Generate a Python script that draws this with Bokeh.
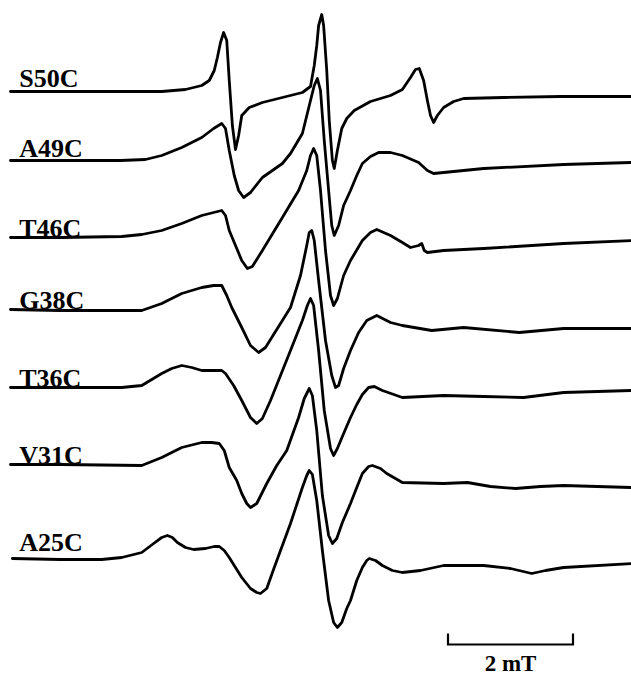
from bokeh.plotting import figure
from bokeh.models import Range1d
from bokeh.embed import file_html
from bokeh.resources import INLINE
from bokeh.core.properties import value

# EPR spectra of spin-labelled cysteine mutants.
# Field in mT (relative to start of sweep), signal in arbitrary units.

s50c_field = [0.00, 0.80, 1.76, 2.42, 2.80, 3.06, 3.18, 3.26, 3.31, 3.36, 3.41, 3.46, 3.50, 3.55, 3.60,
              3.65, 3.70, 3.82, 4.03, 4.35, 4.67, 4.80, 4.86, 4.90, 4.93, 4.98, 5.01, 5.06, 5.10, 5.15,
              5.18, 5.23, 5.30, 5.38, 5.50, 5.76, 6.08, 6.27, 6.40, 6.48, 6.54, 6.61, 6.67, 6.72, 6.77,
              6.83, 6.93, 7.09, 7.25, 7.89, 8.80, 9.94]
s50c_signal = [0, 0, 0, 0, 2, 6, 11, 21, 34, 49, 59, 51, 11, -34, -58,
               -44, -24, -16, -11, -6, -1, 5, 26, 46, 66, 77, 66, 21, -29, -69,
               -77, -59, -37, -27, -19, -10, -4, 2, 14, 22, 23, 11, -9, -24, -31,
               -24, -16, -10, -7, -6, -5, -5]

a49c_field = [0.00, 0.80, 1.76, 2.16, 2.42, 2.74, 3.06, 3.25, 3.38, 3.44, 3.50, 3.58, 3.65, 3.73, 3.84,
              4.03, 4.35, 4.48, 4.67, 4.80, 4.86, 4.91, 4.96, 5.02, 5.09, 5.14, 5.18, 5.25, 5.33, 5.44,
              5.54, 5.63, 5.76, 5.89, 6.08, 6.27, 6.53, 6.67, 6.77, 6.93, 7.57, 8.85, 9.94]
a49c_signal = [0, 0, 0, 1, 5, 13, 23, 32, 37, 32, 10, -15, -30, -37, -32,
               -17, -3, 7, 27, 60, 75, 82, 70, 20, -30, -65, -75, -65, -45, -30,
               -15, -3, 4, 8, 8, 5, -2, -10, -13, -12, -8, -4, -2]

t46c_field = [0.00, 0.80, 1.78, 2.10, 2.42, 2.74, 3.06, 3.25, 3.38, 3.44, 3.50, 3.60, 3.70, 3.79, 3.87,
              4.03, 4.35, 4.61, 4.74, 4.80, 4.85, 4.90, 4.96, 5.04, 5.12, 5.17, 5.23, 5.33, 5.44, 5.63,
              5.76, 5.86, 6.08, 6.27, 6.40, 6.53, 6.58, 6.62, 6.67, 6.93, 7.57, 8.85, 9.94]
t46c_signal = [0, 0, 1, 3, 7, 14, 22, 25, 27, 22, 7, -8, -23, -31, -29,
               -13, 20, 47, 67, 82, 89, 82, 47, -13, -58, -68, -61, -38, -23, -3,
               5, 8, 2, -5, -10, -8, -6, -13, -15, -13, -11, -6, -3]

g38c_field = [0.00, 0.80, 2.10, 2.42, 2.74, 3.06, 3.25, 3.38, 3.46, 3.54, 3.70, 3.84, 3.97, 4.08, 4.22,
              4.48, 4.64, 4.74, 4.78, 4.82, 4.86, 4.93, 5.04, 5.14, 5.20, 5.25, 5.33, 5.44, 5.57, 5.70,
              5.86, 6.08, 6.27, 6.74, 7.25, 8.14, 8.85, 9.94]
g38c_signal = [0, -1, -1, 6, 16, 22, 24, 24, 14, 2, -18, -36, -43, -38, -24,
               2, 34, 64, 77, 79, 69, 29, -31, -66, -78, -76, -59, -41, -23, -11,
               -6, -13, -16, -21, -18, -23, -19, -19]

t36c_field = [0.00, 0.80, 1.78, 2.10, 2.42, 2.58, 2.74, 2.90, 3.06, 3.25, 3.38, 3.44, 3.57, 3.70, 3.84,
              3.94, 4.03, 4.16, 4.32, 4.48, 4.67, 4.75, 4.80, 4.85, 4.93, 5.02, 5.12, 5.17, 5.23, 5.33,
              5.44, 5.54, 5.63, 5.73, 5.82, 5.95, 6.27, 6.93, 7.57, 8.21, 8.85, 9.94]
t36c_signal = [0, 0, 0, 2, 14, 19, 22, 20, 17, 17, 17, 14, 2, -13, -30,
               -36, -31, -13, 12, 37, 67, 82, 89, 82, 37, -23, -61, -68, -61, -46,
               -30, -17, -7, 0, 1, -3, -10, -8, -9, -10, -5, -3]

v31c_field = [0.00, 0.80, 2.10, 2.42, 2.74, 3.06, 3.22, 3.34, 3.42, 3.50, 3.62, 3.70, 3.78, 3.84, 3.94,
              4.10, 4.26, 4.42, 4.61, 4.70, 4.78, 4.83, 4.90, 4.99, 5.09, 5.15, 5.22, 5.31, 5.44, 5.54,
              5.63, 5.73, 5.79, 5.92, 6.02, 6.27, 6.93, 7.31, 7.68, 8.08, 8.48, 8.85, 9.94]
v31c_signal = [0, 0, -1, 7, 17, 22, 22, 21, 14, -3, -16, -29, -39, -43, -39,
               -19, -1, 14, 47, 66, 76, 69, 34, -31, -71, -79, -74, -58, -39, -23,
               -9, -2, -1, -4, -9, -18, -19, -18, -22, -24, -22, -21, -23]

a25c_field = [0.03, 0.80, 1.46, 1.78, 2.10, 2.29, 2.42, 2.51, 2.59, 2.67, 2.80, 2.93, 3.12, 3.26, 3.34,
              3.42, 3.50, 3.70, 3.84, 3.94, 4.00, 4.10, 4.22, 4.35, 4.48, 4.67, 4.74, 4.78, 4.83, 4.90,
              4.99, 5.09, 5.17, 5.23, 5.30, 5.38, 5.44, 5.54, 5.63, 5.70, 5.74, 5.84, 5.95, 6.11, 6.27,
              6.56, 6.93, 7.57, 8.00, 8.34, 8.56, 8.85, 9.94]
a25c_signal = [0, -1, -1, 1, 6, 15, 21, 23, 21, 16, 11, 9, 10, 12, 12,
               8, 1, -19, -30, -34, -35, -30, -9, 13, 35, 71, 83, 88, 84, 58,
               8, -42, -64, -69, -64, -50, -42, -22, -9, -2, 0, -2, -7, -12, -14,
               -12, -7, -7, -10, -15, -12, -9, -5]

mutants = ["S50C", "A49C", "T46C", "G38C", "T36C", "V31C", "A25C"]
fields = [s50c_field, a49c_field, t46c_field, g38c_field, t36c_field, v31c_field, a25c_field]
signals = [s50c_signal, a49c_signal, t46c_signal, g38c_signal, t36c_signal, v31c_signal, a25c_signal]

# vertical stacking of the spectra and where each name sits above its trace
trace_offsets = [586, 517, 440, 368, 290, 213, 119]
label_lift = [13, 12, 9, 9, 9, 9, 16]

scale_bar_mT = 2.0
scale_bar_start = 7.0

p = figure(width=631, height=677, output_backend="svg", toolbar_location=None,
           x_range=Range1d(-0.16, 9.936), y_range=Range1d(0, 677),
           x_axis_type=None, y_axis_type=None, min_border=0,
           outline_line_color=None, background_fill_color="white",
           border_fill_color="white")
p.grid.visible = False

for name, f, s, off, lift in zip(mutants, fields, signals, trace_offsets, label_lift):
    p.line(f, [off + v for v in s], line_color="black", line_width=2.8,
           line_join="round", line_cap="round")
    p.text(x=[0.14], y=[off + lift], text=[name], text_font=value("Liberation Serif"),
           text_font_style="bold", text_font_size="26px", text_color="black",
           text_baseline="alphabetic", text_align="left")

# field scale bar, caption hung below the bar
bar_x0 = scale_bar_start
bar_x1 = scale_bar_start + scale_bar_mT
p.line([bar_x0, bar_x0, bar_x1, bar_x1], [44, 33, 33, 44], line_color="black",
       line_width=2.2, line_join="miter")
p.text(x=[(bar_x0 + bar_x1) / 2], y=[27], text=["%g mT" % scale_bar_mT],
       text_font=value("Liberation Serif"), text_font_style="bold",
       text_font_size="23px", text_color="black", text_align="center",
       text_baseline="top")

open("out.html", "w").write(file_html(p, INLINE))
